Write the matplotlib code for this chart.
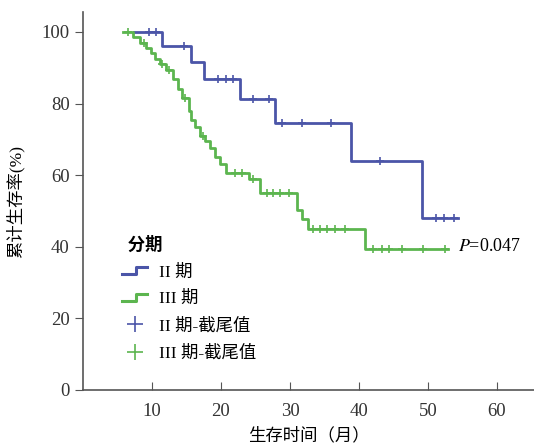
import numpy as np
import matplotlib
matplotlib.use('Agg')
import matplotlib.pyplot as plt
from matplotlib.lines import Line2D
from matplotlib.legend_handler import HandlerLine2D

plt.rcParams['font.family'] = ['Liberation Serif', 'Noto Sans CJK SC']
plt.rcParams['mathtext.fontset'] = 'stix'

# II期
ii_start = 7.4
ii_drop_times = [11.4, 15.6, 17.6, 22.8, 27.8, 38.9, 49.2]
ii_surv = [100, 96.1, 91.7, 87.0, 81.3, 74.7, 64.1, 48.1]
ii_end = 54.3
ii_censor = [9.6, 10.6, 14.6, 19.6, 20.7, 21.8, 24.7, 26.9, 28.9, 31.8, 35.9,
             43.0, 51.2, 52.3, 53.8]

# III期
iii_start = 5.8
iii_drop_times = [7.3, 8.3, 9.1, 9.8, 10.5, 11.2, 12.0, 13.0, 13.7, 14.4, 15.3,
                  15.6, 16.3, 17.0, 17.7, 18.4, 19.2, 19.8, 20.7, 24.0, 25.6,
                  31.0, 31.7, 32.6, 40.9]
iii_surv = [100, 98.5, 97, 95.5, 94, 92.5, 91, 89.5, 87, 84, 81.5, 78, 75.5,
            73.5, 71, 69.5, 67.5, 65, 63, 60.5, 58.9, 55, 50.3, 47.7, 45, 39.4]
iii_end = 52.9
iii_censor = [6.5, 8.8, 11.5, 12.4, 14.8, 17.4, 22.0, 23.0, 24.6, 26.6, 27.6,
              28.6, 29.8, 33.3, 34.3, 35.3, 36.5, 38.0, 42.0, 43.3, 44.3, 46.2,
              49.3, 52.5]

blue = '#4b55a8'
green = '#5cb54f'


def surv_at(t, drops, surv):
    idx = np.searchsorted(drops, t, side='right')
    return surv[idx]


class HandlerStep(HandlerLine2D):
    def create_artists(self, legend, orig_handle, xdescent, ydescent,
                       width, height, fontsize, trans):
        x0, w = -xdescent + width * 0.1, width * 0.8
        y0, h = -ydescent, height
        xs = [x0, x0 + w * 0.55, x0 + w * 0.55, x0 + w]
        ys = [y0 + h * 0.2, y0 + h * 0.2, y0 + h * 0.75, y0 + h * 0.75]
        ln = Line2D(xs, ys, color=orig_handle.get_color(), lw=2.2)
        ln.set_transform(trans)
        return [ln]


fig = plt.figure(figsize=(5.34, 4.43), dpi=100)
ax = fig.add_axes([83 / 534, 53 / 443, 451 / 534, 378 / 443])

h_ii, = ax.step([ii_start] + ii_drop_times + [ii_end], ii_surv + [ii_surv[-1]],
                where='post', color=blue, lw=2.0)
h_iii, = ax.step([iii_start] + iii_drop_times + [iii_end], iii_surv + [iii_surv[-1]],
                 where='post', color=green, lw=2.0)

ii_cy = [surv_at(t, ii_drop_times, ii_surv) for t in ii_censor]
iii_cy = [surv_at(t, iii_drop_times, iii_surv) for t in iii_censor]
ax.plot(ii_censor, ii_cy, '+', color=blue, ms=6, mew=1.2, ls='none')
ax.plot(iii_censor, iii_cy, '+', color=green, ms=6, mew=1.2, ls='none')

ax.text(54.3, 40, r'$P$=0.047', fontsize=13, va='center', ha='left')

ax.set_xlim(0, 451 / 6.9)
ax.set_ylim(0, 378 / 3.58)
ax.set_xticks([10, 20, 30, 40, 50, 60])
ax.set_yticks([0, 20, 40, 60, 80, 100])
ax.tick_params(axis='x', direction='in', length=6, labelsize=13.5, pad=9,
               color='#555555', labelcolor='#333333')
ax.tick_params(axis='y', direction='out', length=6, labelsize=13.5,
               color='#555555', labelcolor='#333333')
for s in ['top', 'right']:
    ax.spines[s].set_visible(False)
for s in ['left', 'bottom']:
    ax.spines[s].set_color('#555555')
    ax.spines[s].set_linewidth(1.2)

ax.set_ylabel('累计生存率(%)', fontsize=12.5, labelpad=12)
ax.set_xlabel('生存时间（月）', fontsize=12.5, labelpad=6)

c_ii_h = Line2D([], [], marker='+', color=blue, ms=12, mew=1.2, ls='none')
c_iii_h = Line2D([], [], marker='+', color=green, ms=12, mew=1.2, ls='none')

leg = ax.legend([h_ii, h_iii, c_ii_h, c_iii_h],
                ['II 期', 'III 期', 'II 期-截尾值', 'III 期-截尾值'],
                title='  分期', loc='upper left', bbox_to_anchor=(0.045, 0.448),
                frameon=False, fontsize=12.5, title_fontsize=12.5,
                handlelength=1.8, handletextpad=0.5, labelspacing=0.62,
                handler_map={h_ii: HandlerStep(), h_iii: HandlerStep()})
leg._legend_box.align = 'left'
leg.get_title().set_fontweight('bold')

fig.savefig('out.png', dpi=100)
